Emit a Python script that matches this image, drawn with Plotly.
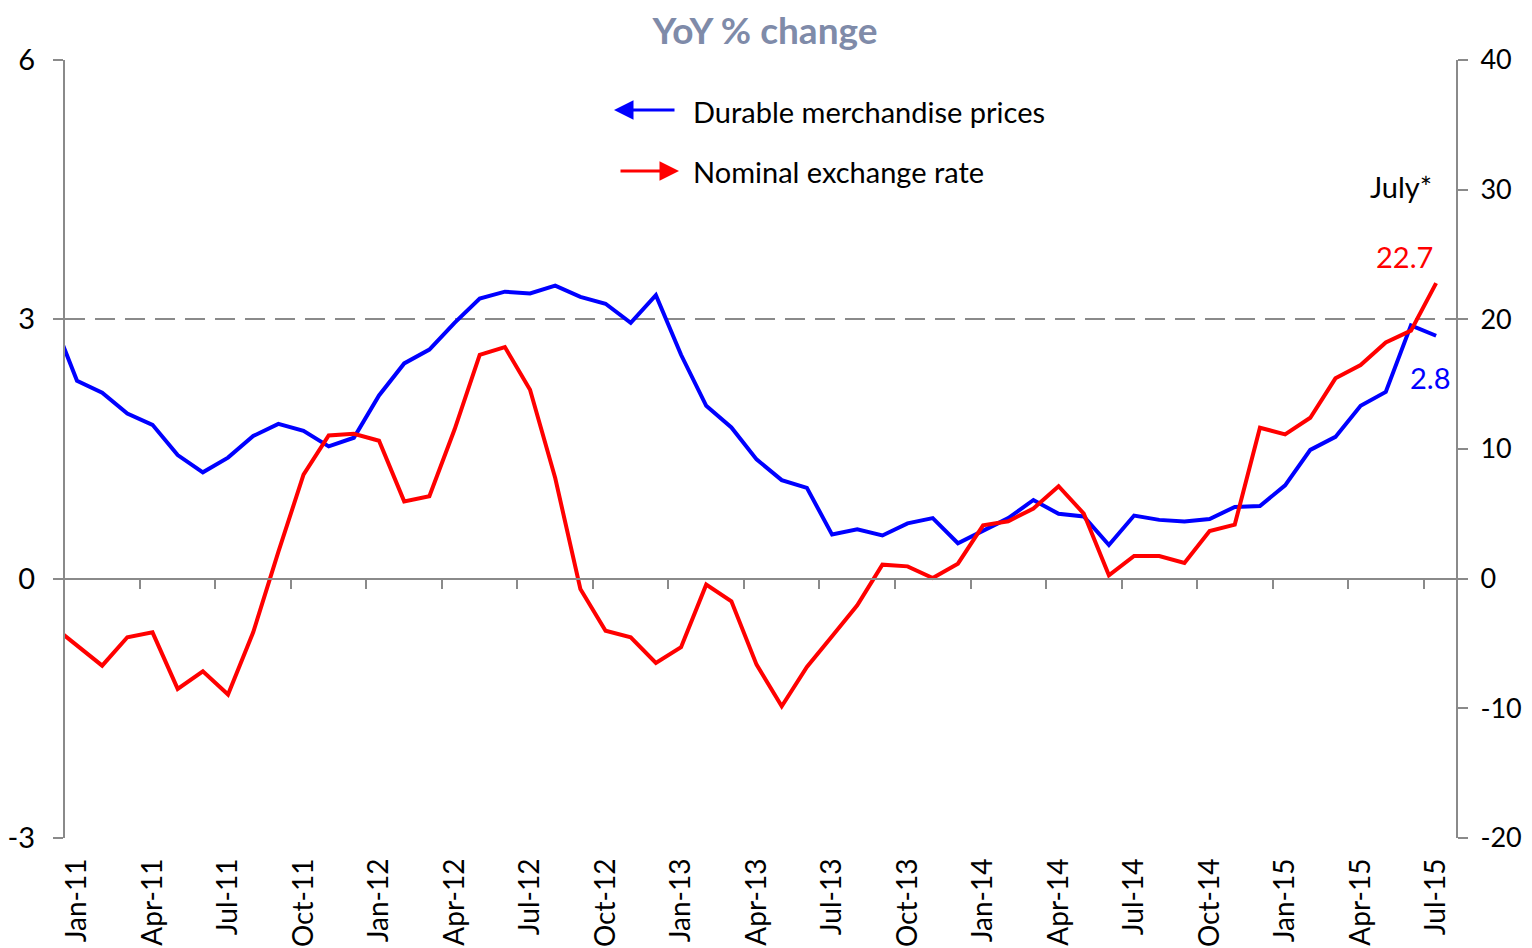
import plotly.graph_objects as go

months = ["Dec-10",
          "Jan-11", "Feb-11", "Mar-11", "Apr-11", "May-11", "Jun-11", "Jul-11", "Aug-11", "Sep-11", "Oct-11", "Nov-11", "Dec-11",
          "Jan-12", "Feb-12", "Mar-12", "Apr-12", "May-12", "Jun-12", "Jul-12", "Aug-12", "Sep-12", "Oct-12", "Nov-12", "Dec-12",
          "Jan-13", "Feb-13", "Mar-13", "Apr-13", "May-13", "Jun-13", "Jul-13", "Aug-13", "Sep-13", "Oct-13", "Nov-13", "Dec-13",
          "Jan-14", "Feb-14", "Mar-14", "Apr-14", "May-14", "Jun-14", "Jul-14", "Aug-14", "Sep-14", "Oct-14", "Nov-14", "Dec-14",
          "Jan-15", "Feb-15", "Mar-15", "Apr-15", "May-15", "Jun-15", "Jul-15"]

durable_prices = [3.03,
                  2.29, 2.15, 1.91, 1.78, 1.43, 1.23, 1.40, 1.65, 1.79, 1.71, 1.53, 1.63,
                  2.12, 2.49, 2.65, 2.96, 3.24, 3.32, 3.30, 3.39, 3.26, 3.18, 2.96, 3.28,
                  2.59, 2.00, 1.75, 1.38, 1.14, 1.05, 0.51, 0.57, 0.50, 0.64, 0.70, 0.41,
                  0.56, 0.70, 0.91, 0.75, 0.72, 0.39, 0.73, 0.68, 0.66, 0.69, 0.83, 0.84,
                  1.08, 1.49, 1.64, 2.00, 2.16, 2.93, 2.81]

exchange_rate = [-3.6,
                 -5.18, -6.71, -4.52, -4.14, -8.50, -7.14, -8.94, -4.14, 2.06, 8.02, 11.05, 11.18,
                 10.64, 5.96, 6.35, 11.5, 17.26, 17.86, 14.57, 7.76, -0.80, -4.01, -4.52, -6.50,
                 -5.29, -0.46, -1.75, -6.63, -9.84, -6.81, -4.44, -2.05, 1.08, 0.95, 0.05, 1.16,
                 4.11, 4.43, 5.41, 7.13, 5.02, 0.26, 1.75, 1.75, 1.21, 3.68, 4.17, 11.64,
                 11.13, 12.41, 15.45, 16.48, 18.21, 19.13, 22.79]

tick_labels = ["Jan-11", "Apr-11", "Jul-11", "Oct-11", "Jan-12", "Apr-12", "Jul-12", "Oct-12",
               "Jan-13", "Apr-13", "Jul-13", "Oct-13", "Jan-14", "Apr-14", "Jul-14", "Oct-14",
               "Jan-15", "Apr-15", "Jul-15"]

left_ticks = [-3, 0, 3, 6]
right_ticks = [-20, -10, 0, 10, 20, 30, 40]

last_labels = ["22.7", "2.8"]

x = list(range(len(months)))
label_pos = [months.index(m) for m in tick_labels]
boundary_pos = [p - 0.5 for p in label_pos]

FONT = "Lato"
GRAY = "#8a8a8a"

# page body has an 8px margin; figure is sized to end exactly at the viewport edge
OFF = 8
W, H = 1532 - OFF, 948 - OFF
ML, MT = 65 - OFF, 60 - OFF
MR, MB = 1532 - 1456, 948 - 838
PW, PH = W - ML - MR, H - MT - MB


def px(xp):
    return (xp - OFF - ML) / PW


def py(yp):
    return (H - MB - (yp - OFF)) / PH


fig = go.Figure()
fig.add_trace(go.Scatter(x=x, y=durable_prices, mode="lines", name="Durable merchandise prices",
                         line=dict(color="#0000ff", width=4), xaxis="x", yaxis="y"))
fig.add_trace(go.Scatter(x=x, y=exchange_rate, mode="lines", name="Nominal exchange rate",
                         line=dict(color="#ff0000", width=4), xaxis="x2", yaxis="y2"))

xr = [0.523, 55.79]

fig.update_layout(
    width=W, height=H,
    margin=dict(l=ML, r=MR, t=MT, b=MB, autoexpand=False),
    plot_bgcolor="white", paper_bgcolor="white",
    showlegend=False,
    font=dict(family=FONT, color="black"),
    title=dict(text="<b>YoY % change</b>", x=(765 - OFF) / W, xanchor="center",
               y=1 - (31 - OFF) / H, yanchor="middle",
               font=dict(family=FONT, size=37, color="#7f8ba9")),
    xaxis=dict(range=xr, tickmode="array", tickvals=label_pos, ticktext=tick_labels,
               tickangle=-90, tickfont=dict(size=28), showgrid=False, zeroline=False,
               showline=False, ticks="", ticklabelstandoff=14, automargin=False),
    xaxis2=dict(range=xr, overlaying="x", anchor="free", position=1 / 3, side="bottom",
                matches="x", showline=True, linecolor=GRAY, linewidth=2,
                ticks="outside", ticklen=9, tickwidth=2, tickcolor=GRAY,
                tickmode="array", tickvals=boundary_pos, showticklabels=False,
                showgrid=False, zeroline=False),
    yaxis=dict(range=[-3, 6], tickmode="array", tickvals=left_ticks,
               ticktext=[str(v) for v in left_ticks],
               showgrid=True, gridcolor=GRAY, gridwidth=2, griddash="20px,10px",
               zeroline=False, showline=True, linecolor=GRAY, linewidth=2,
               ticks="outside", ticklen=10, tickwidth=2, tickcolor=GRAY,
               ticklabelstandoff=12, tickfont=dict(size=29), automargin=False),
    yaxis2=dict(range=[-20, 40], tickmode="array", tickvals=right_ticks,
                ticktext=[str(v) for v in right_ticks], overlaying="y", side="right",
                showgrid=False, zeroline=False, showline=True, linecolor=GRAY, linewidth=2,
                ticks="outside", ticklen=10, tickwidth=2, tickcolor=GRAY,
                ticklabelstandoff=7, tickfont=dict(size=27), automargin=False),
)

# legend-like arrows and labels
fig.add_annotation(xref="paper", yref="paper", x=px(614), y=py(110), ax=62, ay=0, text="",
                   showarrow=True, arrowhead=2, arrowsize=1.3, arrowwidth=3, arrowcolor="#0000ff")
fig.add_annotation(xref="paper", yref="paper", x=px(679), y=py(171), ax=-60, ay=0, text="",
                   showarrow=True, arrowhead=2, arrowsize=1.3, arrowwidth=3, arrowcolor="#ff0000")
fig.add_annotation(xref="paper", yref="paper", x=px(691), y=py(111), xanchor="left", yanchor="middle",
                   text="Durable merchandise prices", showarrow=False, font=dict(size=29, color="black"))
fig.add_annotation(xref="paper", yref="paper", x=px(691), y=py(171), xanchor="left", yanchor="middle",
                   text="Nominal exchange rate", showarrow=False, font=dict(size=29, color="black"))

fig.add_annotation(xref="paper", yref="paper", x=px(1401), y=py(186), xanchor="center", yanchor="middle",
                   text="July*", showarrow=False, font=dict(size=29, color="black"))
fig.add_annotation(xref="paper", yref="paper", x=px(1404), y=py(256), xanchor="center", yanchor="middle",
                   text=last_labels[0], showarrow=False, font=dict(size=29, color="#ff0000"))
fig.add_annotation(xref="paper", yref="paper", x=px(1430), y=py(377), xanchor="center", yanchor="middle",
                   text=last_labels[1], showarrow=False, font=dict(size=29, color="#0000ff"))

fig.write_html("out.html")
